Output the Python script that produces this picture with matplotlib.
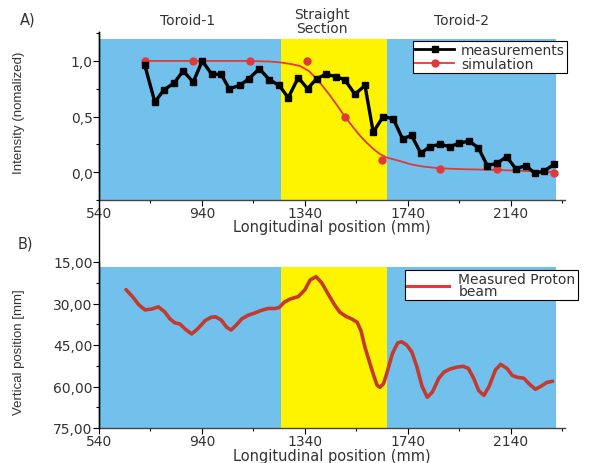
import matplotlib
matplotlib.use("Agg")
import matplotlib.pyplot as plt
from matplotlib.ticker import MultipleLocator, FixedLocator, FuncFormatter
from matplotlib.lines import Line2D
from matplotlib import font_manager

# ---------------- data ----------------
meas_x = [718, 757, 792, 831, 867, 906, 941, 978, 1014, 1046, 1087, 1122, 1163, 1202,
          1240, 1275, 1314, 1350, 1385, 1421, 1460, 1495, 1534, 1573, 1605, 1644, 1683,
          1719, 1754, 1790, 1825, 1864, 1903, 1939, 1977, 2013, 2048, 2087, 2123, 2159,
          2198, 2233, 2269, 2307]
meas_y = [0.96, 0.63, 0.74, 0.80, 0.91, 0.81, 1.00, 0.88, 0.88, 0.75, 0.78, 0.84, 0.93, 0.83,
          0.78, 0.67, 0.85, 0.75, 0.84, 0.88, 0.86, 0.83, 0.70, 0.78, 0.36, 0.50, 0.48,
          0.30, 0.33, 0.17, 0.23, 0.25, 0.23, 0.26, 0.28, 0.22, 0.06, 0.08, 0.14, 0.03,
          0.06, -0.01, 0.01, 0.07]

sim_pts_x = [718, 906, 1126, 1349, 1495, 1641, 1864, 2084, 2307]
sim_pts_y = [1.0, 1.0, 1.0, 1.0, 0.50, 0.11, 0.033, 0.027, -0.003]

sim_curve_x = [718, 900, 1100, 1200, 1250, 1290, 1320, 1355, 1385, 1410, 1437, 1465, 1495,
               1525, 1553, 1580, 1605, 1630, 1657, 1685, 1709, 1748, 1800, 1864, 1950,
               2050, 2150, 2230, 2307]
sim_curve_y = [1.0, 1.0, 1.0, 0.995, 0.985, 0.97, 0.955, 0.91, 0.84, 0.77, 0.69, 0.60, 0.50,
               0.41, 0.33, 0.265, 0.21, 0.165, 0.132, 0.115, 0.10, 0.072, 0.05, 0.035,
               0.027, 0.022, 0.015, 0.008, 0.0]

beam_x = [645, 670, 695, 719, 745, 770, 795, 815, 835, 854, 878, 900, 925, 952, 975, 993,
          1015, 1035, 1053, 1073, 1094, 1120, 1143, 1170, 1197, 1225, 1240, 1260, 1282,
          1314, 1340, 1360, 1383, 1405, 1430, 1455, 1476, 1500, 1520, 1543, 1558, 1573,
          1590, 1605, 1620, 1631, 1645, 1657, 1680, 1700, 1715, 1735, 1755, 1775, 1795,
          1815, 1835, 1860, 1880, 1903, 1930, 1955, 1975, 1995, 2015, 2035, 2055, 2080,
          2100, 2125, 2145, 2165, 2190, 2210, 2235, 2255, 2280, 2302]
beam_y = [25.0, 27.5, 30.5, 32.3, 32.0, 31.2, 33.0, 35.5, 37.0, 37.4, 39.5, 41.0, 39.0,
          36.2, 35.0, 34.8, 36.0, 38.5, 39.6, 37.8, 35.6, 34.2, 33.5, 32.5, 31.8, 31.8,
          31.4, 29.5, 28.4, 27.5, 25.0, 21.5, 20.3, 22.5, 26.6, 30.5, 33.2, 34.7, 35.5,
          36.8, 40.0, 45.8, 51.0, 55.5, 59.5, 60.3, 59.0, 55.5, 48.0, 44.3, 43.8, 45.0,
          47.5, 53.0, 60.0, 63.9, 62.0, 57.0, 54.8, 53.7, 53.0, 52.7, 53.5, 57.0, 61.5,
          63.2, 60.0, 54.0, 52.0, 53.5, 56.0, 56.7, 57.0, 59.0, 61.0, 60.0, 58.5, 58.1]

section_edges = [540, 1247, 1658, 2315]
section_names = ["Toroid-1", "Straight\nSection", "Toroid-2"]
x_major = [540, 940, 1340, 1740, 2140]
x_minor = [740, 1140, 1540, 1940, 2340]

# ---------------- style ----------------
BLUE = "#72C1EC"
YELLOW = "#FFF400"
TXT = "#333333"
RED = "#E0393A"
DARKRED = "#C43A2E"

avail = {f.name for f in font_manager.fontManager.ttflist}
narrow = "Liberation Sans Narrow" if "Liberation Sans Narrow" in avail else "Liberation Sans"
plt.rcParams["font.family"] = ["DejaVu Sans"]

W, H = 597, 464
fig = plt.figure(figsize=(W / 100, H / 100), dpi=100)

def fx(px):
    return px / W

def fy(py):
    return 1 - py / H

ax1 = fig.add_axes([fx(99), fy(201), fx(565) - fx(99), fy(33) - fy(201)])
ax2 = fig.add_axes([fx(99), fy(429), fx(565) - fx(99), fy(263) - fy(429)])

colors = [BLUE, YELLOW, BLUE]

# ---- top panel ----
ax1.set_xlim(540, 2350)
ax1.set_ylim(-0.25, 1.26)
for i in range(3):
    ax1.fill_between([section_edges[i], section_edges[i + 1]], -0.25, 1.2,
                     color=colors[i], lw=0, zorder=0)
ax1.plot(sim_curve_x, sim_curve_y, color=RED, lw=1.3, zorder=2)
ax1.plot(sim_pts_x, sim_pts_y, ls="none", marker="o", ms=5, color=RED, zorder=3)
ax1.plot(meas_x, meas_y, color="black", lw=2.4, marker="s", ms=4, zorder=4)

# ---- bottom panel ----
ax2.set_xlim(540, 2350)
ax2.set_ylim(75, 15)
for i in range(3):
    ax2.fill_between([section_edges[i], section_edges[i + 1]], 16.8, 75,
                     color=colors[i], lw=0, zorder=0)
ax2.plot(beam_x, beam_y, color=DARKRED, lw=2.6, zorder=3, solid_capstyle="round")

for ax, lab_px in ((ax1, 220), (ax2, 449)):
    bottom_px = 201 if ax is ax1 else 429
    height_px = 168 if ax is ax1 else 166
    ax.spines["top"].set_visible(False)
    ax.spines["right"].set_visible(False)
    ax.spines["left"].set_linewidth(1.0)
    ax.spines["bottom"].set_linewidth(1.0)
    ax.spines["bottom"].set_color("#444444")
    ax.xaxis.set_major_locator(FixedLocator(x_major))
    ax.xaxis.set_minor_locator(FixedLocator(x_minor))
    ax.tick_params(which="major", direction="out", length=4, width=0.8,
                   labelsize=10, labelcolor=TXT, pad=0.5)
    ax.tick_params(which="minor", direction="out", length=2.5, width=0.8)
    ax.set_xlabel("Longitudinal position (mm)", fontsize=10.5, color=TXT)
    ax.xaxis.set_label_coords(0.5, -(lab_px - bottom_px) / height_px)

ax1.yaxis.set_major_locator(FixedLocator([0.0, 0.5, 1.0]))
ax1.yaxis.set_minor_locator(MultipleLocator(0.25))
ax1.yaxis.set_major_formatter(FuncFormatter(lambda v, p: f"{v:.1f}".replace(".", ",")))
ax2.yaxis.set_major_locator(FixedLocator([15, 30, 45, 60, 75]))
ax2.yaxis.set_minor_locator(MultipleLocator(7.5))
ax2.yaxis.set_major_formatter(FuncFormatter(lambda v, p: f"{v:.2f}".replace(".", ",")))

# y labels (condensed, rotated)
fig.text(fx(19), fy(113), "Intensity (nomalized)", rotation=90, ha="center", va="center",
         family=narrow, fontsize=9.5, color=TXT)
fig.text(fx(19), fy(352), "Vertical position [mm]", rotation=90, ha="center", va="center",
         family=narrow, fontsize=9.5, color=TXT)

# panel letters
fig.text(fx(20), fy(20), "A)", fontsize=10.5, color=TXT, ha="left", va="center")
fig.text(fx(18), fy(244), "B)", fontsize=10.5, color=TXT, ha="left", va="center")

# section names
fig.text(fx(188), fy(21), section_names[0], fontsize=10, color=TXT, ha="center", va="center")
fig.text(fx(322), fy(22), section_names[1], fontsize=10, color=TXT, ha="center", va="center",
         linespacing=0.95)
fig.text(fx(462), fy(21), section_names[2], fontsize=10, color=TXT, ha="center", va="center")

# continuous left line joining both panels
fig.add_artist(Line2D([fx(99), fx(99)], [fy(429), fy(33)], color="black", lw=1.0,
                      transform=fig.transFigure))

# legends
h_meas = Line2D([], [], color="black", lw=2.0, marker="s", ms=4)
h_sim = Line2D([], [], color=RED, lw=1.3, marker="o", ms=5)
leg1 = ax1.legend([h_meas, h_sim], ["measurements", "simulation"], loc="upper left",
                  bbox_to_anchor=(fx(413), fy(42)), bbox_transform=fig.transFigure,
                  fontsize=10, frameon=True, fancybox=False, framealpha=1,
                  edgecolor="black", borderpad=0.15, handlelength=2.8, handletextpad=0.5,
                  labelspacing=0.0, borderaxespad=0)
leg1.get_frame().set_linewidth(0.8)
for t in leg1.get_texts():
    t.set_color(TXT)

h_beam = Line2D([], [], color=RED, lw=2.2)
leg2 = ax2.legend([h_beam], ["Measured Proton\nbeam"], loc="upper left",
                  bbox_to_anchor=(fx(405), fy(271)), bbox_transform=fig.transFigure,
                  fontsize=10, frameon=True, fancybox=False, framealpha=1,
                  edgecolor="black", borderpad=0.15, handlelength=3.0, handletextpad=0.7,
                  borderaxespad=0)
leg2.get_frame().set_linewidth(0.8)
for t in leg2.get_texts():
    t.set_color(TXT)
    t.set_linespacing(0.8)

fig.savefig("out.png", dpi=100)
